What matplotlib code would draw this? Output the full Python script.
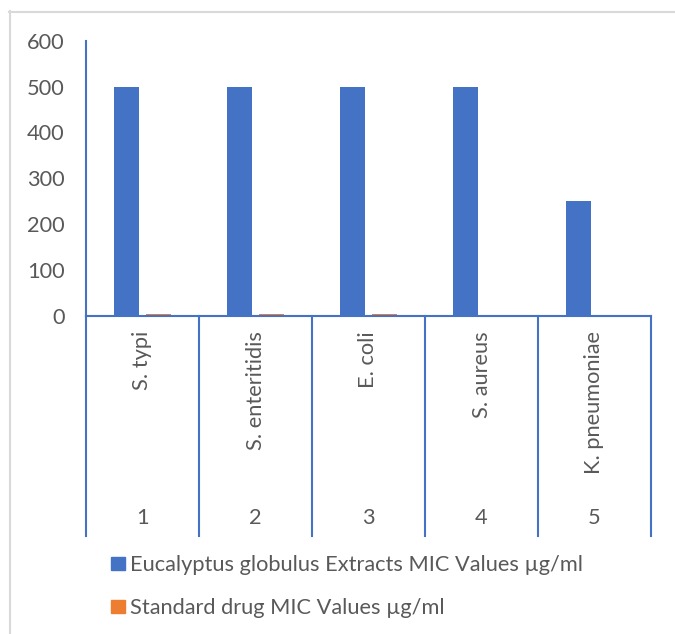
import matplotlib
matplotlib.use("Agg")
import matplotlib.pyplot as plt
from matplotlib.patches import Rectangle
from matplotlib.lines import Line2D
import numpy as np

# ---- data ----
numbers = ["1", "2", "3", "4", "5"]
organisms = ["S. typi", "S. enteritidis", "E. coli", "S. aureus", "K. pneumoniae"]
extract_mic = [500, 500, 500, 500, 250]
drug_mic = [3.9, 3.9, 3.9, 0.98, 0.98]
series_names = ["Eucalyptus globulus Extracts MIC Values µg/ml",
                "Standard drug MIC Values µg/ml"]
yticks = [0, 100, 200, 300, 400, 500, 600]

BLUE = "#4472C4"
ORANGE = "#ED7D31"
TXT = "#595959"
FONT = ["Lato", "DejaVu Sans"]
FS = 15.7

W, H = 675, 634
fig = plt.figure(figsize=(W / 100, H / 100), dpi=100)
plt.rcParams['font.family'] = FONT

def fx(px):
    return px / W

def fy(py):
    return 1 - py / H

ax_l, ax_r, ax_t, ax_b = 86, 651, 40.7, 316
ax = fig.add_axes([fx(ax_l), fy(ax_b), fx(ax_r - ax_l), (ax_b - ax_t) / H])

x = np.arange(len(numbers))
bw = 0.221
off = 0.142
ax.bar(x - off, extract_mic, width=bw, color=BLUE, zorder=2)
ax.bar(x + off, drug_mic, width=bw, color=ORANGE, zorder=2)

ax.set_xlim(-0.5, len(numbers) - 0.5)
ax.set_ylim(0, 600)
ax.set_yticks(yticks)
ax.set_yticklabels([str(v) for v in yticks], fontsize=FS, color=TXT, family=FONT)
ax.tick_params(axis="y", length=0, pad=15.5)
ax.set_xticks([])
for s in ["top", "right"]:
    ax.spines[s].set_visible(False)
for s in ["left", "bottom"]:
    ax.spines[s].set_color(BLUE)
    ax.spines[s].set_linewidth(1.5)
ax.spines["bottom"].set_zorder(3)

# category dividers (multi-level axis)
span = ax_r - ax_l
for i in range(len(numbers) + 1):
    px = ax_l + span * i / len(numbers)
    fig.add_artist(Line2D([fx(px), fx(px)], [fy(ax_b), fy(536)], color=BLUE, lw=1.5))

for i in range(len(numbers)):
    cx = ax_l + span * (i + 0.5) / len(numbers)
    fig.text(fx(cx), fy(331), organisms[i], rotation=90, ha="center", va="top",
             fontsize=FS, color=TXT, family=FONT)
    fig.text(fx(cx), fy(518), numbers[i], ha="center", va="center",
             fontsize=FS, color=TXT, family=FONT)

# legend
leg = [(BLUE, 563, series_names[0]), (ORANGE, 606.5, series_names[1])]
for col, cy, name in leg:
    fig.add_artist(Rectangle((fx(111), fy(cy + 6.5)), fx(14), 13 / H,
                             color=col, transform=fig.transFigure))
    fig.text(fx(130), fy(cy), name, ha="left", va="center_baseline",
             fontsize=FS, color=TXT, family=FONT)

# chart area border (left and top visible)
fig.add_artist(Line2D([fx(9.5), fx(9.5)], [fy(11), 0], color="#D9D9D9", lw=1.5))
fig.add_artist(Line2D([fx(9), 1], [fy(11.5), fy(11.5)], color="#D9D9D9", lw=1.5))

fig.savefig("out.png", dpi=100, facecolor="white")
